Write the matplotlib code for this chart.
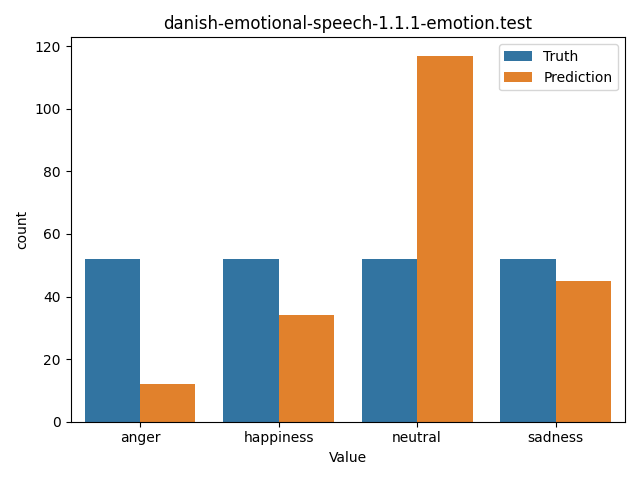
import matplotlib
matplotlib.use("Agg")
import matplotlib.pyplot as plt
import numpy as np

categories = ["anger", "happiness", "neutral", "sadness"]
truth = [52, 52, 52, 52]
prediction = [12, 34, 117, 45]
series_names = ["Truth", "Prediction"]
colors = ["#3274a1", "#e1812c"]

fig, ax = plt.subplots(figsize=(6.4, 4.8), dpi=100)
x = np.arange(len(categories))
w = 0.4
ax.bar(x - w/2, truth, width=w, color=colors[0], label=series_names[0])
ax.bar(x + w/2, prediction, width=w, color=colors[1], label=series_names[1])
ax.set_xticks(x)
ax.set_xticklabels(categories)
ax.set_xlim(-0.5, len(categories) - 0.5)
ax.set_xlabel("Value")
ax.set_ylabel("count")
ax.set_title("danish-emotional-speech-1.1.1-emotion.test")
ax.legend(loc="upper right")
fig.tight_layout()
fig.savefig("out.png")
